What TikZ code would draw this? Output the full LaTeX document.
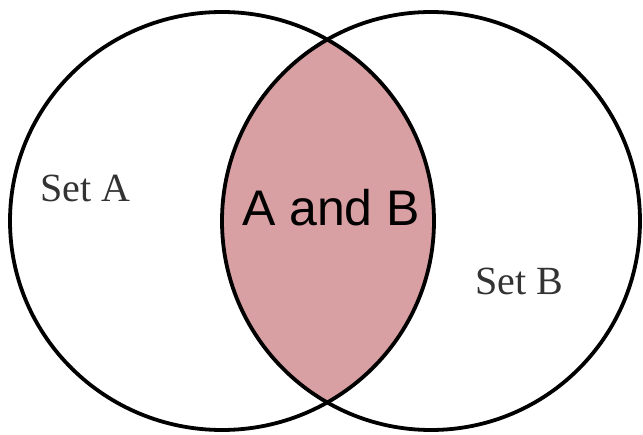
\documentclass[tikz,border=0pt]{standalone}
\usepackage{fontspec}
\setmainfont{Liberation Serif}
\newfontfamily\labelsans{Liberation Sans}
\definecolor{lenspink}{HTML}{D9A0A3}
\tikzset{
  setring/.style={line width=3.8pt, draw=black},
  setlabel/.style={font=\fontsize{40}{40}\selectfont, text=black!80, inner sep=0pt},
  meetlabel/.style={font=\labelsans\fontsize{50}{50}\selectfont, text=black, inner sep=0pt}
}
\begin{document}
\begin{tikzpicture}[x=1pt,y=-1pt]
\useasboundingbox (0,0) rectangle (643,435);
\fill[white] (0,0) rectangle (643,435);
\coordinate (ca) at (222,221);
\coordinate (cb) at (431,221);
\begin{scope}
  \clip (ca) ellipse [x radius=212, y radius=209];
  \fill[lenspink] (cb) ellipse [x radius=209, y radius=209];
\end{scope}
\draw[setring] (ca) ellipse [x radius=212, y radius=209];
\draw[setring] (cb) ellipse [x radius=209, y radius=209];
\node[setlabel] (la) at (85,188) {Set A};
\node[setlabel] (lb) at (519,281) {Set B};
\node[meetlabel] (lab) at (331,208) {A and B};
\end{tikzpicture}
\end{document}
